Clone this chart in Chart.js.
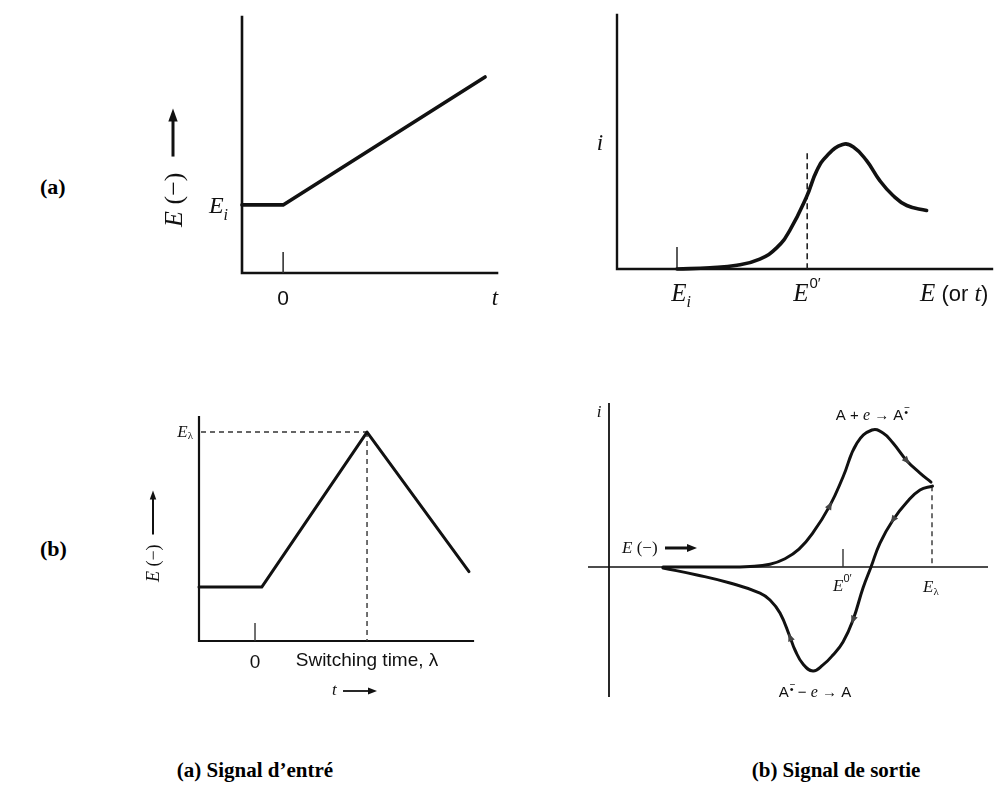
<!DOCTYPE html>
<html><head><meta charset="utf-8">
<script src="https://cdn.jsdelivr.net/npm/chart.js@4.4.1/dist/chart.umd.min.js"></script>
<style>
html,body{margin:0;padding:0;background:#fff;}
#wrap{position:relative;width:996px;height:794px;overflow:hidden;background:#fff;}
canvas{position:absolute;}
.lbl{position:absolute;font-family:"Liberation Serif","Times New Roman",serif;font-weight:bold;color:#000;white-space:nowrap;}
.cap{text-align:center;width:320px;font-size:21px;line-height:24px;}
</style></head><body>
<div id="wrap">
<canvas id="cA1" width="370" height="320" style="left:140px;top:0px;width:370px;height:320px"></canvas>
<canvas id="cA2" width="436" height="320" style="left:560px;top:0px;width:436px;height:320px"></canvas>
<canvas id="cB1" width="350" height="310" style="left:140px;top:400px;width:350px;height:310px"></canvas>
<canvas id="cB2" width="416" height="320" style="left:580px;top:395px;width:416px;height:320px"></canvas>
<div class="lbl" style="left:40px;top:174px;font-size:22px;line-height:26px">(a)</div>
<div class="lbl" style="left:40px;top:536px;font-size:22px;line-height:26px">(b)</div>
<div class="lbl cap" style="left:95px;top:758px">(a) Signal d’entré</div>
<div class="lbl cap" style="left:676px;top:758px">(b) Signal de sortie</div>
</div>
<script>
// ---------- DATA ----------
// (a) input signal: linear sweep, E vs t
const a1T = [-1, 0, 4.91];
const a1E = [1, 1, 2.88];
const a1Ei = 1;          // E_i level
const a1TickT = 0;       // t = 0 tick

// (a) output signal: LSV current vs E
const a2E = [1.0, 1.55, 2.0, 2.38, 2.66, 2.88, 3.16, 3.33, 3.5, 3.76, 3.94, 4.16, 4.38, 4.6, 4.83, 5.16];
const a2I = [0.0, 0.01, 0.03, 0.08, 0.17, 0.31, 0.58, 0.79, 0.91, 1.0, 0.98, 0.87, 0.71, 0.59, 0.51, 0.47];
const a2Ei = 1.0;        // E_i tick
const a2E0 = 3.17;       // E0' dashed line
const a2DashTop = 0.93;

// (b) input signal: triangular sweep, E vs t (t in units of lambda)
const b1T = [-0.5, 0.06, 1.0, 1.91];
const b1E = [0, 0, 1, 0.1];
const b1Lambda = 1.0;    // switching time
const b1Elam = 1.0;      // E_lambda

// (b) output signal: cyclic voltammogram
const b2FwdE = [0.54, 1.11, 1.41, 1.61, 1.76, 1.90, 2.04, 2.21, 2.34, 2.48, 2.63, 2.74, 2.84, 2.98, 3.11, 3.22];
const b2FwdI = [0.0, 0.0, 0.004, 0.02, 0.06, 0.13, 0.25, 0.45, 0.657, 0.905, 1.0, 0.978, 0.905, 0.774, 0.686, 0.62];
const b2RevE = [0.54, 0.88, 1.21, 1.51, 1.61, 1.71, 1.81, 1.86, 1.94, 2.04, 2.14, 2.24, 2.34, 2.44, 2.54, 2.62, 2.71, 2.84, 2.98, 3.11, 3.235];
const b2RevI = [-0.007, -0.058, -0.117, -0.19, -0.241, -0.336, -0.511, -0.606, -0.708, -0.759, -0.715, -0.642, -0.547, -0.387, -0.153, 0.0, 0.175, 0.343, 0.474, 0.562, 0.59];
const b2E0 = 2.34;       // E0' tick
const b2Elam = 3.23;     // E_lambda dashed line
const b2ElamI = 0.59;
const b2FwdArrows = [7, 13];
const b2RevArrows = [17, 13, 6];

// ---------- helpers ----------
const pts = (xs, ys) => xs.map((x, i) => ({x, y: ys[i]}));
const SI = s => `italic ${s}px "Liberation Serif", "DejaVu Serif", serif`;
const SR = s => `${s}px "Liberation Serif", "DejaVu Serif", serif`;
const SS = s => `${s}px "Liberation Sans", "DejaVu Sans", sans-serif`;
const SN = s => `${s}px "Liberation Sans Narrow", "Liberation Sans", sans-serif`;
const INK = '#111';

function runs(ctx, x, y, parts, align) {
  let w = 0;
  parts.forEach(p => { ctx.font = p.f; p.w = ctx.measureText(p.t).width; w += p.w + (p.gap || 0); });
  let cx = align === 'center' ? x - w / 2 : align === 'right' ? x - w : x;
  ctx.textBaseline = 'alphabetic'; ctx.textAlign = 'left'; ctx.fillStyle = INK;
  parts.forEach(p => {
    ctx.font = p.f;
    cx += (p.gap || 0);
    ctx.fillText(p.t, cx, y + (p.dy || 0));
    if (p.over) { ctx.font = p.overF || p.f; ctx.fillText(p.over, cx, y + (p.overDy || 0)); }
    cx += p.w;
  });
  return w;
}
function arrow(ctx, x1, y1, x2, y2, lw, hl, hw) {
  const a = Math.atan2(y2 - y1, x2 - x1), c = Math.cos(a), s = Math.sin(a);
  ctx.save(); ctx.strokeStyle = INK; ctx.fillStyle = INK; ctx.lineWidth = lw; ctx.setLineDash([]);
  ctx.beginPath(); ctx.moveTo(x1, y1); ctx.lineTo(x2 - hl * 0.7 * c, y2 - hl * 0.7 * s); ctx.stroke();
  ctx.beginPath(); ctx.moveTo(x2, y2);
  ctx.lineTo(x2 - hl * c + hw / 2 * s, y2 - hl * s - hw / 2 * c);
  ctx.lineTo(x2 - hl * c - hw / 2 * s, y2 - hl * s + hw / 2 * c);
  ctx.closePath(); ctx.fill(); ctx.restore();
}
function rotTitle(ctx, cx, yBottom, size, gap, alen, lw) {
  ctx.save(); ctx.translate(cx, yBottom); ctx.rotate(-Math.PI / 2);
  const w = runs(ctx, 0, size * 0.33, [{t: 'E', f: SI(size)}, {t: ' (−)', f: SR(size)}], 'left');
  arrow(ctx, w + gap, 0, w + gap + alen, 0, lw, size * 0.5, size * 0.36);
  ctx.restore();
}
function line(ctx, x1, y1, x2, y2, lw, dash, col) {
  ctx.save(); ctx.strokeStyle = col || INK; ctx.lineWidth = lw; ctx.setLineDash(dash || []);
  ctx.beginPath(); ctx.moveTo(x1, y1); ctx.lineTo(x2, y2); ctx.stroke(); ctx.restore();
}
function ds(data, lw, smooth) {
  return {data, showLine: true, borderColor: INK, borderWidth: lw, pointRadius: 0, clip: false,
    borderJoinStyle: 'round', borderCapStyle: 'round', tension: smooth ? 0.45 : 0,
    cubicInterpolationMode: 'default'};
}
function makeChart(id, datasets, xr, yr, pad, pre, post) {
  return new Chart(document.getElementById(id), {
    type: 'scatter',
    data: {datasets},
    options: {
      responsive: false, animation: false, devicePixelRatio: 1,
      layout: {padding: pad},
      plugins: {legend: {display: false}, tooltip: {enabled: false}},
      scales: {
        x: {type: 'linear', display: false, min: xr[0], max: xr[1]},
        y: {type: 'linear', display: false, min: yr[0], max: yr[1]}
      },
      elements: {point: {radius: 0}}
    },
    plugins: [{id: 'deco' + id,
      beforeDatasetsDraw(c) { pre(c, c.ctx, c.chartArea, v => c.scales.x.getPixelForValue(v), v => c.scales.y.getPixelForValue(v)); },
      afterDatasetsDraw(c) { post(c, c.ctx, c.chartArea, v => c.scales.x.getPixelForValue(v), v => c.scales.y.getPixelForValue(v)); }
    }]
  });
}

// ---------- (a) input ----------
makeChart('cA1', [ds(pts(a1T, a1E), 3.6, false)], [-1, 5.2], [0, 3.76],
  {left: 102, top: 17, right: 13, bottom: 47},
  (c, ctx, ca, X, Y) => {
    ctx.save(); ctx.strokeStyle = INK; ctx.lineWidth = 2.6; ctx.lineCap = 'square';
    ctx.beginPath(); ctx.moveTo(ca.left, ca.top); ctx.lineTo(ca.left, ca.bottom); ctx.lineTo(ca.right, ca.bottom); ctx.stroke(); ctx.restore();
    line(ctx, X(a1TickT), ca.bottom, X(a1TickT), ca.bottom - 21, 1.6, null, '#333');
  },
  (c, ctx, ca, X, Y) => {
    runs(ctx, X(a1TickT), ca.bottom + 32, [{t: '0', f: SS(21)}], 'center');
    runs(ctx, ca.right - 2, ca.bottom + 32, [{t: 't', f: SI(23)}], 'center');
    runs(ctx, ca.left - 14, Y(a1Ei) + 8, [{t: 'E', f: SI(24)}, {t: 'i', f: SI(16), dy: 7}], 'right');
    rotTitle(ctx, ca.left - 69, Y(a1Ei) + 22, 26, 16, 48, 3);
  });

// ---------- (a) output ----------
makeChart('cA2', [ds(pts(a2E, a2I), 3.6, true)], [0, 6.25], [0, 2.04],
  {left: 57, top: 15, right: 4, bottom: 51},
  (c, ctx, ca, X, Y) => {
    ctx.save(); ctx.strokeStyle = INK; ctx.lineWidth = 2.4; ctx.lineCap = 'square';
    ctx.beginPath(); ctx.moveTo(ca.left, ca.top); ctx.lineTo(ca.left, ca.bottom); ctx.lineTo(ca.right, ca.bottom); ctx.stroke(); ctx.restore();
    line(ctx, X(a2Ei), ca.bottom, X(a2Ei), ca.bottom - 22, 1.6, null, '#333');
    line(ctx, X(a2E0), Y(a2DashTop), X(a2E0), ca.bottom, 1.6, [6, 4], '#222');
  },
  (c, ctx, ca, X, Y) => {
    runs(ctx, ca.left - 17, ca.top + 135, [{t: 'i', f: SI(23)}], 'center');
    runs(ctx, X(a2Ei) + 4, ca.bottom + 32, [{t: 'E', f: SI(25)}, {t: 'i', f: SI(16), dy: 6}], 'center');
    runs(ctx, X(a2E0) - 14, ca.bottom + 32, [{t: 'E', f: SI(25)}, {t: '0′', f: SS(15), dy: -13, gap: 1}], 'left');
    runs(ctx, ca.right - 72, ca.bottom + 32, [{t: 'E', f: SI(25)}, {t: ' (or ', f: SS(22)}, {t: 't', f: SI(24)}, {t: ')', f: SS(22)}], 'left');
  });

// ---------- (b) input ----------
makeChart('cB1', [ds(pts(b1T, b1E), 3, false)], [-0.5, 1.946], [-0.348, 1.097],
  {left: 59, top: 17, right: 17, bottom: 69},
  (c, ctx, ca, X, Y) => {
    ctx.save(); ctx.strokeStyle = INK; ctx.lineWidth = 2.2; ctx.lineCap = 'square';
    ctx.beginPath(); ctx.moveTo(ca.left, ca.top); ctx.lineTo(ca.left, ca.bottom); ctx.lineTo(ca.right, ca.bottom); ctx.stroke(); ctx.restore();
    line(ctx, X(0), ca.bottom, X(0), ca.bottom - 18, 1.4, null, '#333');
    line(ctx, ca.left + 2, Y(b1Elam), X(b1Lambda), Y(b1Elam), 1.4, [5, 4], '#333');
    line(ctx, X(b1Lambda), Y(b1Elam), X(b1Lambda), ca.bottom, 1.4, [5, 4], '#333');
  },
  (c, ctx, ca, X, Y) => {
    runs(ctx, ca.left - 6, Y(b1Elam) + 5, [{t: 'E', f: SI(17)}, {t: 'λ', f: SR(11), dy: 2}], 'right');
    runs(ctx, X(0), ca.bottom + 27, [{t: '0', f: SN(19)}], 'center');
    runs(ctx, X(b1Lambda), ca.bottom + 25, [{t: 'Switching time, λ', f: SN(19)}], 'center');
    runs(ctx, X(0) + 77, ca.bottom + 54, [{t: 't', f: SI(17)}], 'left');
    arrow(ctx, X(0) + 88, ca.bottom + 50, X(0) + 122, ca.bottom + 50, 1.8, 9, 7);
    rotTitle(ctx, ca.left - 46, Y(0) - 5, 18, 10, 44, 2);
  });

// ---------- (b) output ----------
makeChart('cB2', [ds(pts(b2FwdE, b2FwdI), 3, true), ds(pts(b2RevE, b2RevI), 3, true)],
  [0, 3.79], [-0.949, 1.197],
  {left: 29, top: 8, right: 8, bottom: 18},
  (c, ctx, ca, X, Y) => {
    line(ctx, ca.left, ca.top, ca.left, ca.bottom, 1.8);
    line(ctx, ca.left - 21, Y(0), ca.right, Y(0), 1.5);
    line(ctx, X(b2E0), Y(0), X(b2E0), Y(0) - 18, 1.4, null, '#333');
    line(ctx, X(b2Elam), Y(b2ElamI), X(b2Elam), Y(0), 1.4, [5, 4], '#333');
  },
  (c, ctx, ca, X, Y) => {
    const head = (i, arrE, arrI, dir) => {
      const a = {x: X(arrE[i - 1]), y: Y(arrI[i - 1])}, b = {x: X(arrE[i + 1]), y: Y(arrI[i + 1])};
      let ang = Math.atan2(b.y - a.y, b.x - a.x); if (dir < 0) ang += Math.PI;
      const px = X(arrE[i]), py = Y(arrI[i]);
      ctx.save(); ctx.translate(px, py); ctx.rotate(ang); ctx.fillStyle = '#444';
      ctx.beginPath(); ctx.moveTo(4, 0); ctx.lineTo(-4, -3.5); ctx.lineTo(-4, 3.5); ctx.closePath(); ctx.fill(); ctx.restore();
    };
    b2FwdArrows.forEach(i => head(i, b2FwdE, b2FwdI, 1));
    b2RevArrows.forEach(i => head(i, b2RevE, b2RevI, -1));
    runs(ctx, ca.left - 10, ca.top + 14, [{t: 'i', f: SI(17)}], 'center');
    runs(ctx, ca.left + 13, Y(0) - 14, [{t: 'E', f: SI(17)}, {t: ' (−)', f: SR(17)}], 'left');
    arrow(ctx, ca.left + 56, Y(0) - 19, ca.left + 88, Y(0) - 19, 3, 10, 8);
    runs(ctx, X(b2E0) - 10, Y(0) + 24, [{t: 'E', f: SI(17)}, {t: '0′', f: SS(11), dy: -9}], 'left');
    runs(ctx, X(b2Elam) - 9, Y(0) + 25, [{t: 'E', f: SI(17)}, {t: 'λ', f: SR(11), dy: 3}], 'left');
    runs(ctx, X(b2FwdE[10]), ca.top + 17, [
      {t: 'A + ', f: SS(15)}, {t: 'e', f: SI(16)}, {t: ' → A', f: SS(15)},
      {t: '•', f: SS(11), dy: -4, over: '−', overF: SS(10), overDy: -9, gap: 1}], 'center');
    runs(ctx, X(2.06), Y(0) + 130, [
      {t: 'A', f: SS(15)}, {t: '•', f: SS(11), dy: -4, over: '−', overF: SS(10), overDy: -9, gap: 1},
      {t: ' − ', f: SS(15)}, {t: 'e', f: SI(16)}, {t: ' → A', f: SS(15)}], 'center');
  });
</script>
</body></html>
